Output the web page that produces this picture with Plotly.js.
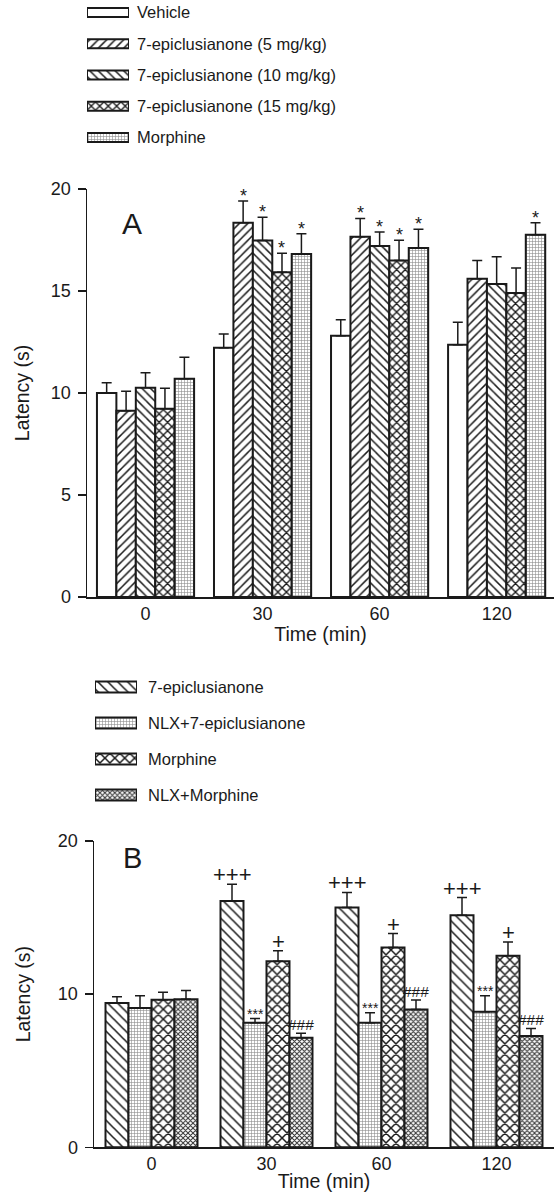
<!DOCTYPE html>
<html>
<head>
<meta charset="utf-8">
<script src="https://cdn.plot.ly/plotly-3.0.1.min.js"></script>
<style>html,body{margin:0;padding:0;background:#fff;}#chart{width:554px;height:1192px;}</style>
</head>
<body>
<div id="chart"></div>
<script>
// ---------- data ----------
const timeLabels = ['0', '30', '60', '120'];

// Panel A
const seriesA = ['Vehicle', '7-epiclusianone (5 mg/kg)', '7-epiclusianone (10 mg/kg)', '7-epiclusianone (15 mg/kg)', 'Morphine'];
const vehicleA = [10.0, 12.22, 12.81, 12.37];
const vehicleAErr = [0.5, 0.67, 0.78, 1.1];
const vehicleASig = ['', '', '', ''];
const epi5A = [9.13, 18.35, 17.66, 15.6];
const epi5AErr = [0.95, 1.06, 0.9, 0.9];
const epi5ASig = ['', '*', '*', ''];
const epi10A = [10.26, 17.47, 17.21, 15.34];
const epi10AErr = [0.73, 1.14, 0.68, 1.34];
const epi10ASig = ['', '*', '*', ''];
const epi15A = [9.23, 15.92, 16.49, 14.9];
const epi15AErr = [1.0, 0.93, 1.0, 1.23];
const epi15ASig = ['', '*', '*', ''];
const morphA = [10.7, 16.81, 17.11, 17.76];
const morphAErr = [1.05, 1.0, 0.92, 0.59];
const morphASig = ['', '*', '*', '*'];

// Panel B
const seriesB = ['7-epiclusianone', 'NLX+7-epiclusianone', 'Morphine', 'NLX+Morphine'];
const epiB = [9.43, 16.09, 15.66, 15.15];
const epiBErr = [0.4, 1.09, 0.98, 1.16];
const epiBSig = ['', '+++', '+++', '+++'];
const nlxEpiB = [9.09, 8.13, 8.13, 8.85];
const nlxEpiBErr = [0.8, 0.28, 0.65, 1.04];
const nlxEpiBSig = ['', '***', '***', '***'];
const morphB = [9.63, 12.15, 13.05, 12.5];
const morphBErr = [0.5, 0.68, 0.91, 0.91];
const morphBSig = ['', '+', '+', '+'];
const nlxMorphB = [9.67, 7.15, 9.0, 7.26];
const nlxMorphBErr = [0.57, 0.29, 0.61, 0.5];
const nlxMorphBSig = ['', '###', '###', '###'];

// ---------- styles ----------
const INK = '#1a1a1a';
const FONT = 'Liberation Sans, Arial, Helvetica, sans-serif';
const patA = [
  {shape: '', size: 6, fg: INK, sol: 0.2},
  {shape: '/', size: 6, fg: INK, sol: 0.25},
  {shape: '\\', size: 6, fg: INK, sol: 0.25},
  {shape: 'x', size: 6, fg: INK, sol: 0.4},
  {shape: '+', size: 3, fg: '#8a8a8a', sol: 0.35}
];
const patB = [
  {shape: '\\', size: 7, fg: INK, sol: 0.22},
  {shape: '+', size: 3, fg: '#8a8a8a', sol: 0.35},
  {shape: 'x', size: 7, fg: INK, sol: 0.38},
  {shape: 'x', size: 3.5, fg: '#333', sol: 0.5}
];

const xIdx = timeLabels.map((_, i) => i);
const dataA = [vehicleA, epi5A, epi10A, epi15A, morphA];
const errA = [vehicleAErr, epi5AErr, epi10AErr, epi15AErr, morphAErr];
const sigA = [vehicleASig, epi5ASig, epi10ASig, epi15ASig, morphASig];
const dataB = [epiB, nlxEpiB, morphB, nlxMorphB];
const errB = [epiBErr, nlxEpiBErr, morphBErr, nlxMorphBErr];
const sigB = [epiBSig, nlxEpiBSig, morphBSig, nlxMorphBSig];

const wA = 0.166, wB = 0.2;
const traces = [];
const annotations = [];

function addPanel(names, data, errs, sigs, pats, w, xa, ya, errW, sigFont) {
  const n = names.length;
  names.forEach((name, i) => {
    const off = -n * w / 2 + i * w;
    traces.push({
      type: 'bar', name: name, x: xIdx, y: data[i], xaxis: xa, yaxis: ya,
      width: w, offset: off, showlegend: false,
      marker: {color: 'white', line: {color: INK, width: 2},
        pattern: {shape: pats[i].shape, size: pats[i].size, solidity: pats[i].sol, fgcolor: pats[i].fg, bgcolor: 'white'}},
      error_y: {type: 'data', symmetric: false, array: errs[i], arrayminus: errs[i].map(() => 0),
        color: INK, thickness: 1.5, width: errW}
    });
    sigs[i].forEach((s, g) => {
      if (!s) return;
      const f = sigFont(s);
      annotations.push({
        xref: xa, yref: ya, x: g + off + w / 2, y: data[i][g] + errs[i][g],
        text: s, showarrow: false, xanchor: 'center', yanchor: 'bottom',
        yshift: f.shift, font: {family: FONT, size: f.size, color: INK}
      });
    });
  });
}

addPanel(seriesA, dataA, errA, sigA, patA, wA, 'x', 'y', 5, s => ({size: 18, shift: -7}));
addPanel(seriesB, dataB, errB, sigB, patB, wB, 'x2', 'y2', 5, s => {
  if (s === '***') return {size: 14, shift: -5};
  if (s === '###') return {size: 15.5, shift: -2};
  return {size: 22, shift: -5};
});

// legend swatches drawn as bars in small subplots
function addLegend(names, pats, xa, ya, w) {
  traces.push({
    type: 'bar', orientation: 'h', y: names.map((_, i) => i), x: names.map(() => 1),
    xaxis: xa, yaxis: ya, width: w, offset: -w / 2, showlegend: false,
    marker: {color: 'white', line: {color: INK, width: 2},
      pattern: {shape: pats.map(p => p.shape), size: pats.map(p => p.size), solidity: pats.map(p => p.sol),
        fgcolor: pats.map(p => p.fg), bgcolor: 'white'}}
  });
}
addLegend(seriesA, patA, 'x3', 'y3', 0.29);
addLegend(seriesB, patB, 'x4', 'y4', 0.3);

const H = 1192, W = 554;
const py = Y => 1 - Y / H;
const px = X => X / W;

const tickFont = {family: FONT, size: 18, color: INK};
const titleFont = {family: FONT, size: 19.5, color: INK};
const legFont = {family: FONT, size: 16.5, color: INK};

annotations.push({xref: 'paper', yref: 'paper', x: px(132), y: py(224), text: 'A', showarrow: false,
  xanchor: 'center', yanchor: 'middle', font: {family: FONT, size: 30, color: INK}});
annotations.push({xref: 'paper', yref: 'paper', x: px(132), y: py(858), text: 'B', showarrow: false,
  xanchor: 'center', yanchor: 'middle', font: {family: FONT, size: 29, color: INK}});

const baseX = {tickvals: xIdx, ticktext: timeLabels, ticks: '', showline: true, linecolor: INK, linewidth: 1.5,
  showgrid: false, zeroline: false, tickfont: tickFont, fixedrange: true};
const baseY = {range: [0, 20], ticks: 'outside', ticklen: 8, tickwidth: 1.5, tickcolor: INK, showline: true,
  linecolor: INK, linewidth: 1.5, showgrid: false, zeroline: false, tickfont: tickFont, fixedrange: true,
  ticklabelstandoff: 3};

const layout = {
  width: W, height: H, margin: {l: 0, r: 0, t: 0, b: 0}, paper_bgcolor: 'white', plot_bgcolor: 'rgba(0,0,0,0)',
  showlegend: false, barmode: 'overlay',
  xaxis: Object.assign({}, baseX, {domain: [px(87), 1], range: [-0.5, 3.49], anchor: 'y',
    title: {text: 'Time (min)', font: titleFont, standoff: 4}}),
  yaxis: Object.assign({}, baseY, {domain: [py(597), py(189)], anchor: 'x', tickvals: [0, 5, 10, 15, 20],
    title: {text: 'Latency (s)', font: titleFont, standoff: 16}}),
  xaxis2: Object.assign({}, baseX, {domain: [px(94), 1], range: [-0.5, 3.5], anchor: 'y2',
    title: {text: 'Time (min)', font: titleFont, standoff: 2}}),
  yaxis2: Object.assign({}, baseY, {domain: [py(1147.3), py(841)], anchor: 'x2', tickvals: [0, 10, 20],
    title: {text: 'Latency (s)', font: titleFont, standoff: 22}}),
  xaxis3: {domain: [px(87), px(129)], range: [0, 1], visible: false, anchor: 'y3', fixedrange: true},
  yaxis3: {domain: [py(150), 1], range: [4.4, -0.4], anchor: 'x3', side: 'right', tickvals: seriesA.map((_, i) => i),
    ticktext: seriesA, ticks: '', showline: false, showgrid: false, zeroline: false, tickfont: legFont,
    ticklabelstandoff: 7, fixedrange: true},
  xaxis4: {domain: [px(95), px(137)], range: [0, 1], visible: false, anchor: 'y4', fixedrange: true},
  yaxis4: {domain: [py(813), py(669)], range: [3.5, -0.5], anchor: 'x4', side: 'right', tickvals: seriesB.map((_, i) => i),
    ticktext: seriesB, ticks: '', showline: false, showgrid: false, zeroline: false, tickfont: legFont,
    ticklabelstandoff: 10, fixedrange: true},
  annotations: annotations
};

Plotly.newPlot('chart', traces, layout, {staticPlot: true, displayModeBar: false});
</script>
</body>
</html>
